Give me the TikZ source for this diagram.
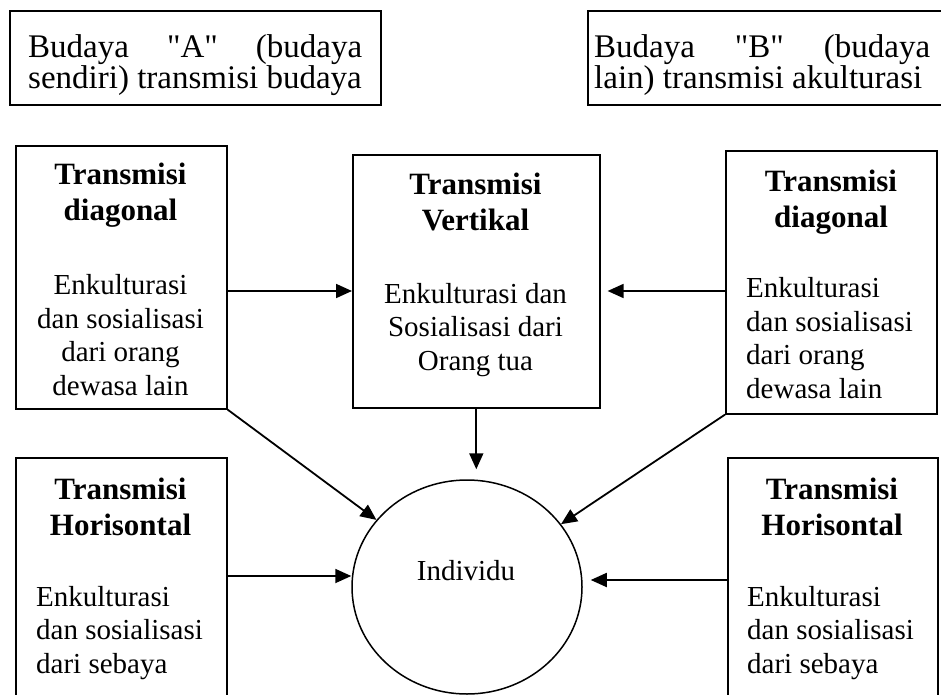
\documentclass[tikz,border=0pt]{standalone}
\usepackage{fontspec}
\setmainfont{Liberation Serif}[Ligatures=TeXOff]
\usetikzlibrary{arrows.meta,shapes.geometric}

\begin{document}
\begin{tikzpicture}[x=1pt, y=-1pt,
   frame/.style={draw, line width=1.6pt, inner sep=0pt, anchor=north west},
   note/.style={font=\fontsize{33}{31}\selectfont, align=left, inner sep=0pt, anchor=base west},
   head/.style={font=\bfseries\fontsize{31}{36}\selectfont, align=center, inner sep=0pt, anchor=base},
   bodyc/.style={font=\fontsize{29}{33.5}\selectfont, align=center, inner sep=0pt, anchor=base},
   bodyl/.style={font=\fontsize{29}{33.5}\selectfont, align=left, inner sep=0pt, anchor=base west},
   flow/.style={-{Triangle[length=16pt,width=14pt]}, line width=1.8pt}]
   \useasboundingbox (0,0) rectangle (941,695);
   \clip (0,0) rectangle (941,695);
   % top boxes
   \node (budA) at (9,10) [frame, minimum width=371pt, minimum height=94pt] {};
   \node (budB) at (587,10) [frame, minimum width=370pt, minimum height=94pt] {};
   \node (budAtxt) at (28,89) [note] {\hbox to 334pt{Budaya\hfill"A"\hfill(budaya}\\sendiri) transmisi budaya};
   \node (budBtxt) at (594,89) [note] {\hbox to 336pt{Budaya\hfill"B"\hfill(budaya}\\lain) transmisi akulturasi};
   % transmission boxes
   \node (diagL) at (15,145) [frame, minimum width=211pt, minimum height=263pt] {};
   \node (vert)  at (352,154) [frame, minimum width=247pt, minimum height=253pt] {};
   \node (diagR) at (725,150) [frame, minimum width=211pt, minimum height=263pt] {};
   \node (horL)  at (15,457) [frame, minimum width=211pt, minimum height=260pt] {};
   \node (horR)  at (727,457) [frame, minimum width=210pt, minimum height=260pt] {};
   \node (indiv) at (467,587) [ellipse, draw, line width=1.5pt, minimum width=230pt, minimum height=214pt, inner sep=0pt] {};
   % texts (base = last line)
   \node (diagLhead) at (120.5,220) [head] {Transmisi\\diagonal};
   \node (diagLbody) at (120.5,395) [bodyc] {Enkulturasi\\dan sosialisasi\\dari orang\\dewasa lain};
   \node (verthead) at (475.5,230) [head] {Transmisi\\Vertikal};
   \node (vertbody) at (475.5,370) [bodyc] {Enkulturasi dan\\Sosialisasi dari\\Orang tua};
   \node (diagRhead) at (831,227) [head] {Transmisi\\diagonal};
   \node (diagRbody) at (746,398) [bodyl] {Enkulturasi\\dan sosialisasi\\dari orang\\dewasa lain};
   \node (horLhead) at (120.5,535) [head] {Transmisi\\Horisontal};
   \node (horLbody) at (36,673) [bodyl] {Enkulturasi\\dan sosialisasi\\dari sebaya};
   \node (horRhead) at (832,535) [head] {Transmisi\\Horisontal};
   \node (horRbody) at (747,673) [bodyl] {Enkulturasi\\dan sosialisasi\\dari sebaya};
   \node (indivtxt) at (466,580) [bodyc] {Individu};
   % arrows
   \coordinate (rowV) at (0,291);
   \coordinate (rowL) at (0,576);
   \coordinate (rowR) at (0,580);
   \draw[flow] (diagL.east |- rowV) -- (vert.west |- rowV);
   \draw[flow, shorten >=7pt] (diagR.west |- rowV) -- (vert.east |- rowV);
   \draw[flow, shorten >=10pt] (vert.south) -- (vert.south |- indiv.north);
   \draw[flow] (diagL.south east) -- (indiv);
   \draw[flow] (diagR.south west) -- (indiv);
   \draw[flow] (horL.east |- rowL) -- (indiv.west |- rowL);
   \draw[flow, shorten >=8pt] (horR.west |- rowR) -- (indiv.east |- rowR);
\end{tikzpicture}
\end{document}
